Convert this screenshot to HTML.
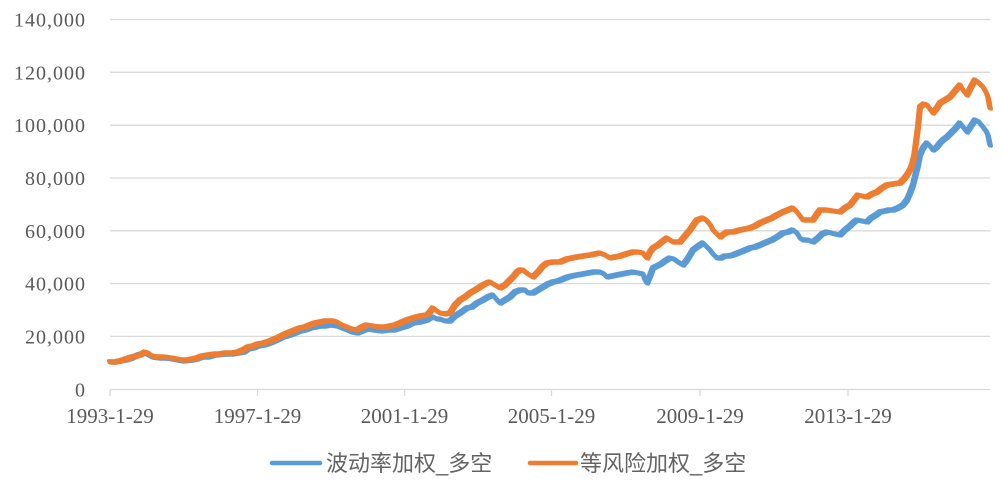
<!DOCTYPE html>
<html>
<head>
<meta charset="utf-8">
<style>
  html,body{margin:0;padding:0;background:#fff;}
  body{width:1002px;height:486px;overflow:hidden;}
  svg{display:block;}
  .yl{font-family:"Liberation Serif",serif;font-size:20px;letter-spacing:1px;fill:#595959;}
  .xl{font-family:"Liberation Serif",serif;font-size:21px;fill:#595959;}
  .lg{font-family:"Liberation Sans","Noto Sans CJK SC",sans-serif;font-size:22px;fill:#636363;}
</style>
</head>
<body>
<svg width="1002" height="486" viewBox="0 0 1002 486" xmlns="http://www.w3.org/2000/svg">
  <defs>
    <polyline id="bl" fill="none" stroke-linejoin="round" stroke-linecap="round"
    points="110,362 115,362 120,361 126,360 132,358 138,355 145,353 152,357 158,358 165,358 172,359 182,361 192,360 197,359 202,357 208,357 215,355 225,354 232,354 238,353 244,352 248,349 253,348 258,346 264,345 270,343 277,340 283,337 290,335 300,331 305,330 310,328 315,327 320,326 325,326 330,325 337,326 342,328 347,330 352,332 357,333 362,331 367,329 373,330 380,331 388,330 394,330 400,328 407,326 413,323 420,322 427,320 430,318 433,317 437,319 440,319 445,321 450,321 455,316 460,313 467,308 472,307 477,303 483,300 488,297 493,295 497,300 500,303 505,300 510,297 515,292 520,290 525,290 528,293 533,293 538,290 543,287 548,284 553,282 558,281 563,279 568,277 572,276 577,275 583,274 588,273 594,272 600,272 604,274 607,277 612,276 617,275 622,274 627,273 633,272 638,273 643,274 645,280 647,283 650,276 653,268 657,266 661,264 665,261 670,258 674,259 678,262 683,265 687,260 690,255 693,250 697,247 700,245 703,243 706,246 710,250 713,254 717,258 721,258 725,256 729,256 733,255 738,253 743,251 750,248 755,247 760,245 767,242 772,240 777,237 783,233 788,232 793,230 797,233 800,238 803,240 808,240 813,242 818,238 822,234 827,232 831,233 835,234 840,235 845,230 850,226 854,222 857,220 862,221 867,222 871,218 876,215 880,212 885,211 889,210 893,210 898,208 903,205 907,200 910,193 913,185 915,177 918,165 920,155 923,148 927,143 930,146 933,150 937,147 940,143 943,140 947,137 951,133 955,129 960,123 963,127 967,132 971,126 975,120 979,122 983,127 986,131 988,135 990,145"/>
    <polyline id="or" fill="none" stroke-linejoin="round" stroke-linecap="round"
    points="110,362 115,362 120,361 126,359 132,357 136,356 140,355 145,352 148,353 152,356 158,357 165,357 172,358 182,360 187,360 192,359 197,358 202,356 208,355 215,354 220,354 225,353 232,353 238,352 243,350 248,347 253,346 258,344 264,343 270,341 277,338 283,335 290,332 295,330 300,328 305,327 310,325 315,323 320,322 325,321 330,321 334,321 337,322 342,325 347,327 352,329 357,330 362,327 367,325 373,326 380,327 385,327 390,326 395,325 400,323 407,320 413,318 420,316 427,315 430,312 433,308 437,311 440,313 445,314 450,313 455,305 460,300 465,297 470,293 477,289 483,285 487,283 490,282 495,285 500,288 505,285 510,280 514,276 517,272 520,270 523,270 528,274 533,277 538,272 543,266 547,263 553,262 560,262 567,259 572,258 577,257 583,256 590,255 595,254 600,253 605,255 610,258 615,257 620,256 626,254 633,252 638,252 643,253 645,256 647,258 650,252 653,248 658,245 663,241 667,238 670,240 673,242 677,242 680,242 685,236 690,230 694,224 697,220 700,219 703,218 706,220 708,222 711,226 713,230 717,234 720,237 724,234 727,232 733,232 740,230 745,229 750,228 755,226 760,223 767,220 772,218 777,215 783,212 788,210 793,208 797,212 800,216 803,220 808,220 813,220 817,214 820,210 824,210 827,210 833,211 840,212 845,208 850,205 854,200 858,195 862,196 867,197 872,194 877,192 882,188 887,185 893,184 900,183 904,179 907,175 910,170 912,165 914,157 915,150 917,135 918,127 920,107 924,104 927,105 930,109 933,113 937,108 940,103 945,100 950,97 955,91 960,85 963,90 967,95 971,87 975,80 979,83 983,87 986,92 988,97 990,108"/>
  </defs>
  <rect width="1002" height="486" fill="#fff"/>
  <!-- gridlines -->
  <g stroke="#d9d9d9" stroke-width="1.3">
    <line x1="110" y1="19.5" x2="990" y2="19.5"/>
    <line x1="110" y1="72.3" x2="990" y2="72.3"/>
    <line x1="110" y1="125.2" x2="990" y2="125.2"/>
    <line x1="110" y1="178" x2="990" y2="178"/>
    <line x1="110" y1="230.8" x2="990" y2="230.8"/>
    <line x1="110" y1="283.6" x2="990" y2="283.6"/>
    <line x1="110" y1="336.4" x2="990" y2="336.4"/>
    <line x1="110" y1="389.5" x2="990" y2="389.5"/>
    <line x1="110" y1="389.5" x2="110" y2="396"/>
    <line x1="257.5" y1="389.5" x2="257.5" y2="396"/>
    <line x1="404.5" y1="389.5" x2="404.5" y2="396"/>
    <line x1="551.5" y1="389.5" x2="551.5" y2="396"/>
    <line x1="700" y1="389.5" x2="700" y2="396"/>
    <line x1="848" y1="389.5" x2="848" y2="396"/>
  </g>
  <g class="yl" text-anchor="end">
    <text x="86" y="26.5">140,000</text>
    <text x="86" y="79.3">120,000</text>
    <text x="86" y="132.2">100,000</text>
    <text x="86" y="185">80,000</text>
    <text x="86" y="237.8">60,000</text>
    <text x="86" y="290.6">40,000</text>
    <text x="86" y="343.4">20,000</text>
    <text x="86" y="396.5">0</text>
  </g>
  <g class="xl" text-anchor="middle">
    <text x="110" y="423">1993-1-29</text>
    <text x="257.5" y="423">1997-1-29</text>
    <text x="404.5" y="423">2001-1-29</text>
    <text x="551.5" y="423">2005-1-29</text>
    <text x="700" y="423">2009-1-29</text>
    <text x="848" y="423">2013-1-29</text>
  </g>
  <!-- blue series (jittered copies to emulate noisy thick line) -->
  <g stroke="#5B9BD5">
    <use href="#bl" stroke-width="5"/>
    <use href="#bl" stroke-width="3" transform="translate(1.5,1.2)"/>
    <use href="#bl" stroke-width="3" transform="translate(-1.5,-1.2)"/>
  </g>
  <g stroke="#ED7D31">
    <use href="#or" stroke-width="5"/>
    <use href="#or" stroke-width="3" transform="translate(1.5,1.2)"/>
    <use href="#or" stroke-width="3" transform="translate(-1.5,-1.2)"/>
  </g>
  <!-- legend -->
  <line x1="272" y1="463" x2="320" y2="463" stroke="#5B9BD5" stroke-width="4.5" stroke-linecap="round"/>
  <text class="lg" x="326" y="471">波动率加权_多空</text>
  <line x1="530" y1="463" x2="576" y2="463" stroke="#ED7D31" stroke-width="4.5" stroke-linecap="round"/>
  <text class="lg" x="580" y="471">等风险加权_多空</text>
</svg>
</body>
</html>
